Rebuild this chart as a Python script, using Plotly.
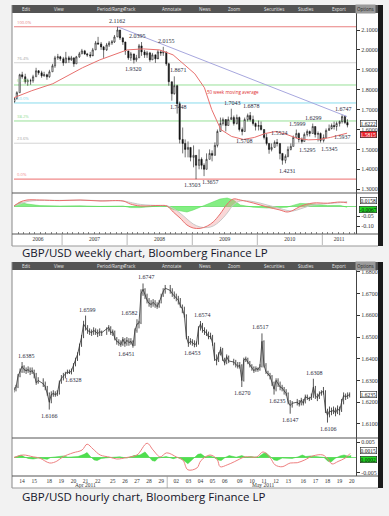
import plotly.graph_objects as go
import pandas as pd

W, H = 389, 516

# ============ WEEKLY CHART DATA (half-month bars) ============
weekly_months = pd.period_range("2006-04", "2011-05", freq="M")
weekly_bar_days = (8, 22)
weekly_first_open = 1.7400
weekly_close = [
    1.7550, 1.7850, 1.8750, 1.8650, 1.8400, 1.8450, 1.8450, 1.8650, 1.8950, 1.8850, 1.8700, 1.8750, 1.8650, 1.8900, 1.9200, 1.9600, 1.9650, 1.9550,
    1.9350, 1.9600, 1.9500, 1.9600, 1.9300, 1.9650, 1.9800, 1.9950, 1.9800, 1.9750, 1.9700, 2.0000, 2.0350, 2.0300, 2.0150, 2.0000, 2.0250, 2.0350, 2.0400, 2.0650, 2.1000, 2.0600, 2.0400, 1.9950,
    1.9600, 1.9800, 1.9500, 1.9600, 2.0200, 1.9900, 1.9750, 1.9850, 1.9500, 1.9750, 1.9550, 1.9900, 1.9850, 1.9900, 1.9300, 1.8400, 1.7800, 1.8200, 1.7300, 1.5500, 1.5300, 1.5000, 1.5100, 1.4600,
    1.4700, 1.4200, 1.4500, 1.4200, 1.4000, 1.4500, 1.4800, 1.4700, 1.5200, 1.5900, 1.6300, 1.6500, 1.6200, 1.6500, 1.6600, 1.6300, 1.6600, 1.6000, 1.5900, 1.6500, 1.6700, 1.6500, 1.6300, 1.6150,
    1.6200, 1.6000, 1.5600, 1.5300, 1.5000, 1.5100, 1.5350, 1.5300, 1.4800, 1.4450, 1.4650, 1.5000, 1.5150, 1.5600, 1.5800, 1.5500, 1.5400, 1.5750, 1.5900, 1.5800, 1.6150, 1.5750, 1.5800, 1.5450,
    1.5600, 1.5950, 1.6050, 1.6200, 1.6150, 1.6300, 1.6400, 1.6650, 1.6350, 1.6222,
]
weekly_high = [
    1.7600, 1.7920, 1.8800, 1.8900, 1.8800, 1.8550, 1.8550, 1.8750, 1.9100, 1.8980, 1.8950, 1.8900, 1.8800, 1.9000, 1.9300, 1.9700, 1.9800, 1.9700,
    1.9650, 1.9900, 1.9700, 1.9700, 1.9600, 1.9700, 1.9900, 2.0050, 2.0000, 1.9850, 1.9900, 2.0100, 2.0450, 2.0655, 2.0400, 2.0200, 2.0350, 2.0450, 2.0500, 2.0750, 2.1162, 2.1000, 2.0650, 2.0400,
    1.9950, 1.9900, 1.9800, 1.9750, 2.0300, 2.0395, 2.0000, 1.9950, 1.9900, 1.9850, 1.9750, 2.0000, 2.0000, 2.0155, 1.9900, 1.9350, 1.8400, 1.8671, 1.8250, 1.7400, 1.6100, 1.5500, 1.5400, 1.5100,
    1.5200, 1.4700, 1.5000, 1.4600, 1.4300, 1.4800, 1.5000, 1.4950, 1.5350, 1.6000, 1.6600, 1.6600, 1.6500, 1.6650, 1.7043, 1.6700, 1.6750, 1.6650, 1.6100, 1.6600, 1.6800, 1.6878, 1.6700, 1.6350,
    1.6450, 1.6400, 1.6000, 1.5800, 1.5300, 1.5300, 1.5450, 1.5524, 1.5300, 1.4800, 1.4750, 1.5150, 1.5300, 1.5700, 1.5999, 1.5850, 1.5600, 1.5850, 1.6000, 1.5950, 1.6299, 1.6150, 1.5900, 1.5850,
    1.5750, 1.6050, 1.6250, 1.6300, 1.6400, 1.6400, 1.6450, 1.6747, 1.6700, 1.6517,
]
weekly_low = [
    1.7350, 1.7500, 1.7850, 1.8550, 1.8300, 1.8200, 1.8250, 1.8350, 1.8650, 1.8750, 1.8600, 1.8650, 1.8500, 1.8600, 1.8900, 1.9100, 1.9500, 1.9450,
    1.9200, 1.9350, 1.9350, 1.9450, 1.9150, 1.9300, 1.9600, 1.9800, 1.9750, 1.9650, 1.9600, 1.9750, 2.0000, 2.0250, 2.0000, 1.9600, 1.9950, 2.0150, 2.0250, 2.0350, 2.0650, 2.0500, 2.0250, 1.9750,
    1.9500, 1.9450, 1.9320, 1.9400, 1.9600, 1.9700, 1.9600, 1.9600, 1.9400, 1.9500, 1.9350, 1.9600, 1.9700, 1.9700, 1.9200, 1.8200, 1.7448, 1.7750, 1.6800, 1.5300, 1.4800, 1.4600, 1.4600, 1.4400,
    1.4100, 1.3503, 1.4000, 1.4000, 1.3657, 1.4000, 1.4500, 1.4400, 1.4700, 1.5100, 1.5900, 1.6200, 1.5900, 1.6200, 1.6500, 1.6200, 1.6250, 1.5900, 1.5708, 1.5900, 1.6400, 1.6400, 1.6200, 1.5950,
    1.5950, 1.5950, 1.5500, 1.5200, 1.4781, 1.4900, 1.5100, 1.5150, 1.4500, 1.4231, 1.4300, 1.4600, 1.4950, 1.5150, 1.5550, 1.5350, 1.5295, 1.5400, 1.5650, 1.5650, 1.5800, 1.5600, 1.5400, 1.5345,
    1.5350, 1.5550, 1.5950, 1.6000, 1.6000, 1.5937, 1.6150, 1.6300, 1.6270, 1.6106,
]

ma50_dates = ["2006-04-06", "2006-07-15", "2006-11-10", "2007-02-01", "2007-04-25", "2007-08-01", "2007-11-05",
              "2008-01-01", "2008-04-01", "2008-07-01", "2008-09-15", "2008-12-01", "2009-01-15", "2009-03-10",
              "2009-04-20", "2009-06-10", "2009-08-10", "2009-10-15", "2009-12-15", "2010-02-15", "2010-04-15",
              "2010-06-15", "2010-08-15", "2010-10-15", "2010-12-15", "2011-02-15", "2011-04-15", "2011-05-20"]
ma50_vals = [1.760, 1.795, 1.830, 1.870, 1.910, 1.950, 1.980, 2.000, 2.005, 2.000, 1.975, 1.915, 1.880, 1.810,
             1.700, 1.600, 1.565, 1.550, 1.560, 1.580, 1.590, 1.575, 1.555, 1.548, 1.550, 1.560, 1.575, 1.5815]

trend_dates = ["2007-11-09", "2011-05-20"]
trend_vals = [2.1162, 1.665]

fib_high, fib_low = 2.1162, 1.3503
fib_pcts = [0.0, 23.6, 38.2, 50.0, 61.8, 76.4, 100.0]
fib_colors = ["#f08a8a", "#d4d4d4", "#98e098", "#88dcec", "#98e098", "#d4d4d4", "#e88080"]

weekly_macd_dates = ["2006-04-06", "2006-05-10", "2006-06-18", "2006-08-29", "2006-12-19", "2007-04-12", "2007-08-02",
                     "2007-12-09", "2008-01-19", "2008-03-15", "2008-07-05", "2008-08-12", "2008-09-16", "2008-10-24",
                     "2008-12-02", "2009-01-06", "2009-02-14", "2009-03-26", "2009-04-28", "2009-06-06", "2009-07-16",
                     "2009-08-19", "2009-09-27", "2009-12-09", "2010-02-25", "2010-05-08", "2010-06-17", "2010-07-20",
                     "2010-08-29", "2010-11-10", "2011-01-29", "2011-04-12", "2011-05-20"]
weekly_macd = [0.000, 0.020, 0.030, 0.030, 0.027, 0.030, 0.025, 0.025, 0.010, 0.000, 0.003, 0.000, -0.030, -0.060,
               -0.095, -0.110, -0.112, -0.100, -0.080, -0.040, 0.010, 0.035, 0.030, 0.015, -0.005, -0.020, -0.030,
               -0.022, -0.002, 0.015, 0.014, 0.020, 0.0158]
weekly_signal = [0.002, 0.010, 0.022, 0.028, 0.028, 0.029, 0.027, 0.025, 0.018, 0.008, 0.002, 0.001, -0.012, -0.035,
                 -0.065, -0.090, -0.105, -0.108, -0.100, -0.075, -0.035, 0.005, 0.025, 0.022, 0.005, -0.012, -0.022,
                 -0.025, -0.015, 0.005, 0.012, 0.017, 0.0225]
weekly_hist = [0.000, 0.018, 0.010, 0.002, 0.000, 0.001, -0.002, 0.000, -0.008, -0.008, 0.001, -0.002, -0.018, -0.025,
               -0.030, -0.020, -0.006, 0.008, 0.020, 0.035, 0.040, 0.030, 0.005, -0.006, -0.010, -0.008, -0.006,
               0.003, 0.013, 0.010, 0.002, 0.003, -0.0067]

weekly_labels = [("2.1162", "2007-11-05", 2.1162, 1), ("2.0395", "2008-02-26", 2.0395, 1), ("2.0155", "2008-08-07", 2.0155, 1),
                 ("1.9320", "2008-02-05", 1.9320, -1), ("1.8671", "2008-10-14", 1.8671, 1), ("1.7448", "2008-10-14", 1.7448, -1),
                 ("1.3503", "2009-01-01", 1.3503, -1), ("1.3657", "2009-04-12", 1.3657, -1), ("1.7043", "2009-08-12", 1.7043, 1),
                 ("1.5708", "2009-10-20", 1.5708, -1), ("1.6878", "2009-11-28", 1.6878, 1), ("1.5524", "2010-05-05", 1.5524, 1),
                 ("1.4231", "2010-06-20", 1.4231, -1), ("1.5999", "2010-08-12", 1.5999, 1), ("1.5295", "2010-10-08", 1.5295, -1),
                 ("1.6299", "2010-11-10", 1.6299, 1), ("1.5345", "2011-02-13", 1.5345, -1), ("1.5937", "2011-04-22", 1.5937, -1),
                 ("1.6747", "2011-05-01", 1.6747, 1)]
weekly_years = ["2006", "2007", "2008", "2009", "2010", "2011"]
weekly_price_ticks = [1.3, 1.4, 1.5, 1.6, 1.7, 1.8, 1.9, 2.0, 2.1]
weekly_range = ["2006-04-06", "2011-07-09"]

# ============ HOURLY CHART DATA (4-hour bars) ============
hourly_first_bar = "2011-04-13 20:00"
hourly_days = ["2011-04-14", "2011-04-15", "2011-04-18", "2011-04-19", "2011-04-20", "2011-04-21", "2011-04-22",
               "2011-04-25", "2011-04-26", "2011-04-27", "2011-04-28", "2011-04-29", "2011-05-02", "2011-05-03",
               "2011-05-04", "2011-05-05", "2011-05-06", "2011-05-09", "2011-05-10", "2011-05-11", "2011-05-12",
               "2011-05-13", "2011-05-16", "2011-05-17", "2011-05-18", "2011-05-19", "2011-05-20"]
hourly_first_open = 1.6250
hourly_close = [
    1.6257,
    1.6270, 1.6320, 1.6340, 1.6365, 1.6350, 1.6345,
    1.6350, 1.6340, 1.6345, 1.6330, 1.6290, 1.6300,
    1.6285, 1.6270, 1.6240, 1.6200, 1.6235, 1.6240,
    1.6235, 1.6240, 1.6290, 1.6310, 1.6320, 1.6330,
    1.6340, 1.6335, 1.6345, 1.6370, 1.6395, 1.6420,
    1.6460, 1.6500, 1.6560, 1.6545, 1.6530, 1.6525,
    1.6520, 1.6530, 1.6525, 1.6515, 1.6525, 1.6520,
    1.6535, 1.6545, 1.6520, 1.6525, 1.6495, 1.6480,
    1.6475, 1.6465, 1.6490, 1.6470, 1.6485, 1.6475,
    1.6480, 1.6460, 1.6530, 1.6560, 1.6565, 1.6700,
    1.6720, 1.6690, 1.6670, 1.6655, 1.6650, 1.6660,
    1.6650, 1.6640, 1.6660, 1.6690, 1.6710, 1.6725,
    1.6715, 1.6700, 1.6690, 1.6680, 1.6670, 1.6645,
    1.6630, 1.6600, 1.6500, 1.6470, 1.6480, 1.6475,
    1.6465, 1.6470, 1.6540, 1.6560, 1.6535, 1.6525,
    1.6520, 1.6500, 1.6505, 1.6470, 1.6400, 1.6390,
    1.6420, 1.6445, 1.6400, 1.6380, 1.6410, 1.6390,
    1.6385, 1.6375, 1.6365, 1.6370, 1.6300, 1.6395,
    1.6400, 1.6385, 1.6370, 1.6360, 1.6345, 1.6355,
    1.6350, 1.6365, 1.6480, 1.6370, 1.6340, 1.6330,
    1.6320, 1.6290, 1.6260, 1.6300, 1.6285, 1.6270,
    1.6265, 1.6250, 1.6240, 1.6200, 1.6185, 1.6195,
    1.6200, 1.6190, 1.6210, 1.6195, 1.6225, 1.6220,
    1.6215, 1.6225, 1.6270, 1.6230, 1.6220, 1.6240,
    1.6245, 1.6250, 1.6165, 1.6140, 1.6160, 1.6155,
    1.6165, 1.6150, 1.6170, 1.6160, 1.6200, 1.6230,
    1.6225, 1.6230, 1.6235,
]
hourly_high = [
    1.6270,
    1.6280, 1.6330, 1.6355, 1.6385, 1.6370, 1.6360,
    1.6365, 1.6360, 1.6360, 1.6350, 1.6335, 1.6315,
    1.6310, 1.6295, 1.6275, 1.6245, 1.6250, 1.6255,
    1.6250, 1.6255, 1.6300, 1.6325, 1.6335, 1.6340,
    1.6350, 1.6350, 1.6355, 1.6380, 1.6405, 1.6430,
    1.6470, 1.6510, 1.6575, 1.6599, 1.6555, 1.6540,
    1.6535, 1.6545, 1.6540, 1.6535, 1.6540, 1.6530,
    1.6545, 1.6555, 1.6550, 1.6535, 1.6530, 1.6500,
    1.6490, 1.6485, 1.6500, 1.6495, 1.6500, 1.6495,
    1.6495, 1.6485, 1.6540, 1.6582, 1.6575, 1.6720,
    1.6747, 1.6725, 1.6700, 1.6680, 1.6670, 1.6675,
    1.6670, 1.6660, 1.6670, 1.6700, 1.6725, 1.6740,
    1.6740, 1.6725, 1.6710, 1.6700, 1.6690, 1.6680,
    1.6650, 1.6640, 1.6605, 1.6505, 1.6495, 1.6490,
    1.6485, 1.6480, 1.6550, 1.6574, 1.6565, 1.6545,
    1.6535, 1.6525, 1.6520, 1.6510, 1.6475, 1.6420,
    1.6430, 1.6455, 1.6450, 1.6405, 1.6420, 1.6415,
    1.6400, 1.6395, 1.6385, 1.6385, 1.6375, 1.6405,
    1.6410, 1.6405, 1.6390, 1.6375, 1.6365, 1.6365,
    1.6360, 1.6375, 1.6517, 1.6485, 1.6380, 1.6345,
    1.6335, 1.6325, 1.6295, 1.6310, 1.6310, 1.6295,
    1.6280, 1.6270, 1.6260, 1.6245, 1.6210, 1.6205,
    1.6215, 1.6210, 1.6220, 1.6215, 1.6235, 1.6235,
    1.6225, 1.6240, 1.6308, 1.6275, 1.6240, 1.6250,
    1.6255, 1.6270, 1.6255, 1.6170, 1.6180, 1.6175,
    1.6180, 1.6175, 1.6185, 1.6180, 1.6215, 1.6245,
    1.6240, 1.6245, 1.6245,
]
hourly_low = [
    1.6245,
    1.6250, 1.6265, 1.6315, 1.6335, 1.6335, 1.6330,
    1.6335, 1.6325, 1.6330, 1.6310, 1.6280, 1.6285,
    1.6270, 1.6255, 1.6230, 1.6166, 1.6195, 1.6225,
    1.6225, 1.6228, 1.6235, 1.6285, 1.6300, 1.6310,
    1.6330, 1.6330, 1.6328, 1.6340, 1.6365, 1.6390,
    1.6415, 1.6455, 1.6495, 1.6530, 1.6515, 1.6510,
    1.6505, 1.6510, 1.6510, 1.6500, 1.6505, 1.6505,
    1.6510, 1.6525, 1.6510, 1.6505, 1.6485, 1.6465,
    1.6460, 1.6455, 1.6460, 1.6455, 1.6460, 1.6460,
    1.6465, 1.6451, 1.6460, 1.6520, 1.6540, 1.6560,
    1.6690, 1.6675, 1.6655, 1.6640, 1.6635, 1.6640,
    1.6635, 1.6630, 1.6635, 1.6655, 1.6685, 1.6700,
    1.6700, 1.6685, 1.6675, 1.6665, 1.6650, 1.6635,
    1.6610, 1.6590, 1.6490, 1.6455, 1.6465, 1.6460,
    1.6453, 1.6455, 1.6465, 1.6530, 1.6520, 1.6510,
    1.6505, 1.6490, 1.6490, 1.6460, 1.6390, 1.6370,
    1.6385, 1.6415, 1.6390, 1.6370, 1.6375, 1.6380,
    1.6370, 1.6360, 1.6355, 1.6355, 1.6270, 1.6295,
    1.6385, 1.6375, 1.6360, 1.6345, 1.6335, 1.6340,
    1.6340, 1.6345, 1.6360, 1.6360, 1.6330, 1.6320,
    1.6305, 1.6275, 1.6235, 1.6250, 1.6270, 1.6255,
    1.6250, 1.6235, 1.6230, 1.6190, 1.6147, 1.6175,
    1.6185, 1.6180, 1.6185, 1.6185, 1.6195, 1.6210,
    1.6205, 1.6210, 1.6220, 1.6215, 1.6205, 1.6215,
    1.6230, 1.6235, 1.6150, 1.6106, 1.6130, 1.6140,
    1.6145, 1.6135, 1.6145, 1.6140, 1.6155, 1.6190,
    1.6210, 1.6215, 1.6222,
]

hourly_macd_times = ["04-13 20:00", "04-14 14:00", "04-15 10:00", "04-15 23:00", "04-18 13:00", "04-19 03:00",
                     "04-19 15:00", "04-20 11:00", "04-21 05:00", "04-21 15:00", "04-22 03:00", "04-22 17:00",
                     "04-25 06:00", "04-25 20:00", "04-26 16:00", "04-27 12:00", "04-28 08:00", "04-28 20:00",
                     "04-29 10:00", "04-29 23:00", "05-02 13:00", "05-03 01:00", "05-03 11:00", "05-04 05:00",
                     "05-04 13:00", "05-05 07:00", "05-05 21:00", "05-06 03:00", "05-06 17:00", "05-09 01:00",
                     "05-09 12:00", "05-09 22:00", "05-10 22:00", "05-11 10:00", "05-12 00:00", "05-12 10:00",
                     "05-13 00:00", "05-13 16:00", "05-16 00:00", "05-16 15:00", "05-17 07:00", "05-18 03:00",
                     "05-18 13:00", "05-18 21:00", "05-19 09:00", "05-19 23:00", "05-20 09:00"]
hourly_macd = [0.0000, 0.0008, 0.0002, -0.0002, -0.0018, -0.0012, 0.0002, 0.0015, 0.0024, 0.0043, 0.0027, 0.0008,
               0.0001, -0.0005, 0.0000, 0.0008, 0.0046, 0.0024, 0.0002, 0.0015, 0.0001, -0.0008, -0.0040, -0.0034,
               -0.0010, 0.0008, -0.0006, -0.0030, -0.0024, -0.0014, -0.0005, 0.0002, 0.0002, 0.0018, 0.0000,
               -0.0024, -0.0030, -0.0018, -0.0017, -0.0008, 0.0005, 0.0008, -0.0006, -0.0021, -0.0013, -0.0002,
               0.0013]
hourly_hist_times = ["04-13 20:00", "04-14 04:00", "04-14 10:00", "04-14 16:00", "04-15 00:00", "04-15 10:00",
                     "04-15 20:00", "04-18 00:00", "04-18 08:00", "04-18 15:00", "04-19 09:00", "04-19 17:00",
                     "04-20 01:00", "04-20 21:00", "04-21 09:00", "04-21 15:00", "04-21 21:00", "04-22 05:00",
                     "04-22 11:00", "04-22 19:00", "04-25 07:00", "04-26 02:00", "04-26 16:00", "04-27 06:00",
                     "04-27 18:00", "04-28 04:00", "04-28 10:00", "04-28 18:00", "04-29 00:00", "04-29 06:00",
                     "04-29 22:00", "05-02 06:00", "05-02 15:00", "05-03 03:00", "05-03 11:00", "05-03 19:00",
                     "05-04 07:00", "05-04 13:00", "05-04 21:00", "05-05 07:00", "05-05 15:00", "05-05 23:00",
                     "05-06 05:00", "05-06 13:00", "05-06 21:00", "05-09 05:00", "05-09 16:00", "05-10 00:00",
                     "05-10 10:00", "05-11 00:00", "05-11 10:00", "05-11 16:00", "05-12 00:00", "05-12 08:00",
                     "05-12 14:00", "05-13 00:00", "05-13 20:00", "05-16 02:00", "05-16 10:00", "05-16 17:00",
                     "05-17 03:00", "05-17 17:00", "05-18 05:00", "05-18 13:00", "05-18 19:00", "05-19 03:00",
                     "05-19 13:00", "05-19 21:00", "05-20 05:00", "05-20 11:00"]
hourly_hist = [0, 0.0004, 0.0008, 0.0002, -0.0003, -0.0005, -0.0002, -0.0004, -0.0006, 0, 0.0003, 0.0005,
               0.0001, 0.0003, 0.0010, 0.0016, 0.0004, -0.0008, -0.0010, -0.0003, 0, 0.0002, -0.0002, 0.0006,
               0.0008, 0.0018, 0.0006, -0.0010, -0.0012, -0.0002, 0.0003, -0.0004, 0, -0.0010, -0.0020, -0.0008,
               0.0010, 0.0012, 0.0002, 0.0005, 0, -0.0008, -0.0010, 0, 0.0006, 0.0001, 0.0006, 0.0001,
               0.0003, 0, 0.0012, 0.0015, 0.0002, -0.0008, -0.0010, -0.0002, -0.0003, 0.0002, 0.0008, 0.0003,
               0.0005, 0.0001, 0, -0.0012, -0.0015, -0.0003, 0.0005, 0.0008, 0.0004, 0.0006]

hourly_labels = [("1.6385", "04-14 20:00", 1.6385, 1), ("1.6166", "04-18 11:30", 1.6166, -1),
                 ("1.6328", "04-20 13:00", 1.6328, -1), ("1.6599", "04-21 15:00", 1.6599, 1),
                 ("1.6451", "04-26 16:00", 1.6451, -1), ("1.6582", "04-26 22:00", 1.6582, 1),
                 ("1.6747", "04-28 06:00", 1.6747, 1), ("1.6453", "05-03 21:00", 1.6453, -1),
                 ("1.6574", "05-04 17:00", 1.6574, 1), ("1.6270", "05-09 16:30", 1.6270, -1),
                 ("1.6517", "05-11 06:00", 1.6517, 1), ("1.6235", "05-12 14:00", 1.6235, -1),
                 ("1.6308", "05-17 11:00", 1.6308, 1), ("1.6147", "05-13 17:30", 1.6147, -1),
                 ("1.6106", "05-18 15:00", 1.6106, -1)]
hourly_weekend_starts = ["2011-04-16", "2011-04-23", "2011-04-30", "2011-05-07", "2011-05-14"]
hourly_price_ticks = [1.61, 1.62, 1.63, 1.64, 1.65, 1.66, 1.67, 1.68]
hourly_range = ["2011-04-13 20:00", "2011-05-20 20:36"]
hourly_months = [("Apr 2011", "2011-04-21 12:00"), ("May 2011", "2011-05-11 12:00")]
hourly_macd_box = 0.0015
hourly_hist_box = 0.0002

# ============ BUILD ============
def yp(p):
    return 1 - p / H

def xp(p):
    return p / W

XD = [xp(14), xp(356)]
SERIF = "Liberation Serif"
SANS = "Open Sans"

weekly_x = [pd.Timestamp(p.year, p.month, d) for p in weekly_months for d in weekly_bar_days]
weekly_open = [weekly_first_open] + weekly_close[:-1]

hourly_x = [pd.Timestamp(hourly_first_bar)]
for d in hourly_days:
    for hh in range(0, 24, 4):
        hourly_x.append(pd.Timestamp(d) + pd.Timedelta(hours=hh))
hourly_x = hourly_x[:len(hourly_close)]
hourly_open = [hourly_first_open] + hourly_close[:-1]

def ht(s):
    return pd.Timestamp("2011-" + s)

fig = go.Figure()

# weekly price
fig.add_trace(go.Candlestick(
    x=weekly_x, open=weekly_open, high=weekly_high, low=weekly_low, close=weekly_close,
    increasing=dict(line=dict(color="#111", width=0.6), fillcolor="white"),
    decreasing=dict(line=dict(color="#111", width=0.6), fillcolor="#111"),
    whiskerwidth=0, xaxis="x", yaxis="y", showlegend=False, hoverinfo="skip"))
fig.add_trace(go.Scatter(x=ma50_dates, y=ma50_vals, mode="lines", line=dict(color="#e8706e", width=1),
                         xaxis="x", yaxis="y", showlegend=False, hoverinfo="skip"))
fig.add_trace(go.Scatter(x=trend_dates, y=trend_vals, mode="lines", line=dict(color="#a7a7de", width=1),
                         xaxis="x", yaxis="y", showlegend=False, hoverinfo="skip"))

# weekly MACD
fig.add_trace(go.Scatter(x=weekly_macd_dates, y=weekly_hist, mode="lines", fill="tozeroy",
                         line=dict(color="#4fd84f", width=0.5), fillcolor="rgba(110,235,110,0.85)",
                         xaxis="x2", yaxis="y2", showlegend=False, hoverinfo="skip"))
fig.add_trace(go.Scatter(x=weekly_macd_dates, y=weekly_signal, mode="lines", line=dict(color="#c9c9c9", width=1),
                         line_shape="spline", xaxis="x2", yaxis="y2", showlegend=False, hoverinfo="skip"))
fig.add_trace(go.Scatter(x=weekly_macd_dates, y=weekly_macd, mode="lines", line=dict(color="#e8706e", width=1),
                         line_shape="spline", fill="tonexty", fillcolor="rgba(240,140,140,0.35)",
                         xaxis="x2", yaxis="y2", showlegend=False, hoverinfo="skip"))

# hourly price: bars plus a thin close line so the series reads as one dense trace
fig.add_trace(go.Ohlc(x=hourly_x, open=hourly_open, high=hourly_high, low=hourly_low, close=hourly_close,
                      increasing=dict(line=dict(color="#2a2a2a", width=0.8)),
                      decreasing=dict(line=dict(color="#2a2a2a", width=0.8)),
                      tickwidth=0.12, xaxis="x3", yaxis="y3", showlegend=False, hoverinfo="skip"))
fig.add_trace(go.Scatter(x=hourly_x, y=hourly_close, mode="lines", line=dict(color="#333", width=0.8),
                         xaxis="x3", yaxis="y3", showlegend=False, hoverinfo="skip"))

# hourly MACD
fig.add_trace(go.Scatter(x=[ht(t) for t in hourly_hist_times], y=hourly_hist, mode="lines", fill="tozeroy",
                         line=dict(color="#3fd03f", width=0.5), fillcolor="rgba(60,220,60,0.9)",
                         xaxis="x4", yaxis="y4", showlegend=False, hoverinfo="skip"))
fig.add_trace(go.Scatter(x=[ht(t) for t in hourly_macd_times], y=hourly_macd, mode="lines",
                         line=dict(color="#ee8080", width=1), line_shape="spline",
                         xaxis="x4", yaxis="y4", showlegend=False, hoverinfo="skip"))

shapes = []
anns = []

def rect(x0, y0, x1, y1, fill, layer="below"):
    shapes.append(dict(type="rect", xref="paper", yref="paper", x0=xp(x0), x1=xp(x1), y0=yp(y1), y1=yp(y0),
                       fillcolor=fill, line=dict(width=0), layer=layer))

def hline(x0, x1, y, color, width=1):
    shapes.append(dict(type="line", xref="paper", yref="paper", x0=xp(x0), x1=xp(x1), y0=yp(y), y1=yp(y),
                       line=dict(color=color, width=width), layer="above"))

for (top, bot) in [(5, 246), (262, 488)]:
    rect(12, top, 378, bot, "white")
    rect(12, top, 378, top + 8, "#545454", layer="above")
    rect(378, top, 383, bot, "#1b1b1b", layer="above")
    shapes.append(dict(type="line", xref="paper", yref="paper", x0=xp(12), x1=xp(12), y0=yp(bot), y1=yp(top),
                       line=dict(color="#888", width=1), layer="above"))
    hline(12, 378, bot, "#999", 1)

for y in (193, 234, 438, 476):
    hline(12, 378, y, "#555", 1)

# toolbar texts
toolbar_items = [("Edit", 20), ("View", 52), ("Period/Range", 95), ("Track", 122), ("Annotate", 160),
                 ("News", 197), ("Zoom", 226), ("Securities", 262), ("Studies", 296), ("Export", 330)]
for top in (5, 262):
    for txt, xx in toolbar_items:
        anns.append(dict(xref="paper", yref="paper", x=xp(xx), y=yp(top + 4), text=txt, showarrow=False,
                         xanchor="left", yanchor="middle", font=dict(family=SANS, size=4.5, color="#e6e6e6")))
    anns.append(dict(xref="paper", yref="paper", x=xp(376), y=yp(top + 4), text="Options", showarrow=False,
                     xanchor="right", yanchor="middle", bgcolor="#9a9a9a",
                     font=dict(family=SANS, size=4.5, color="#222")))

# Fibonacci lines and labels
for pct, col in zip(fib_pcts, fib_colors):
    lvl = fib_low + pct / 100.0 * (fib_high - fib_low)
    shapes.append(dict(type="line", xref="x domain", yref="y", x0=0, x1=1, y0=lvl, y1=lvl,
                       line=dict(color=col, width=1.2 if pct in (0.0, 100.0) else 1), layer="below"))
    anns.append(dict(xref="paper", yref="y", x=xp(14.5), y=lvl, text="%.1f%%" % pct, showarrow=False,
                     xanchor="left", yanchor="bottom", yshift=0,
                     font=dict(family=SANS, size=4.2, color=col if col != "#d4d4d4" else "#aaaaaa")))

anns.append(dict(xref="paper", yref="paper", x=xp(205), y=yp(92), text="50 week moving average", showarrow=False,
                 xanchor="left", yanchor="middle", font=dict(family=SANS, size=4.5, color="#e03030")))

for txt, d, p, s in weekly_labels:
    anns.append(dict(xref="x", yref="y", x=d, y=p, text=txt, showarrow=False,
                     yanchor="bottom" if s > 0 else "top", yshift=1 * s,
                     font=dict(family=SERIF, size=6, color="#2a2a40")))
for txt, t, p, s in hourly_labels:
    anns.append(dict(xref="x3", yref="y3", x=ht(t), y=p, text=txt, showarrow=False,
                     yanchor="bottom" if s > 0 else "top", yshift=1 * s,
                     font=dict(family=SERIF, size=6, color="#2a2a40")))

# value boxes on right axis (pairs nudged apart so they do not collide)
def box(yref, val, text, bg, fg, shift):
    anns.append(dict(xref="paper", yref=yref, x=xp(368), y=val, text=text, showarrow=False, xanchor="center",
                     yanchor="middle", yshift=shift, bgcolor=bg, bordercolor="#222", borderwidth=0.6, borderpad=0,
                     font=dict(family=SERIF, size=5.5, color=fg)))

box("y", weekly_close[-1], "%.4f" % weekly_close[-1], "white", "#111", 1.5)
box("y", ma50_vals[-1], "%.4f" % ma50_vals[-1], "#e8202a", "white", -1.5)
box("y2", weekly_macd[-1], "%.4f" % weekly_macd[-1], "white", "#111", 2.5)
box("y2", weekly_hist[-1], "%.4f" % weekly_hist[-1], "#22dd22", "#111", -2.5)
box("y3", hourly_close[-1], "%.4f" % hourly_close[-1], "white", "#111", 0)
box("y4", hourly_macd_box, "%.4f" % hourly_macd_box, "white", "#111", 2.5)
box("y4", hourly_hist_box, "%.4f" % hourly_hist_box, "#22dd22", "#111", -2.5)

# year separators weekly
for yr in weekly_years[1:]:
    shapes.append(dict(type="line", xref="x2", yref="paper", x0=yr + "-01-01", x1=yr + "-01-01",
                       y0=yp(245), y1=yp(234), line=dict(color="#999", width=0.7), layer="above"))
ws, we = pd.Timestamp(weekly_range[0]), pd.Timestamp(weekly_range[1])
year_mid = []
for yr in weekly_years:
    a = max(pd.Timestamp(yr + "-01-01"), ws)
    b = min(pd.Timestamp(yr + "-12-31"), we)
    year_mid.append(a + (b - a) / 2)

# month separator hourly
shapes.append(dict(type="line", xref="x4", yref="paper", x0="2011-04-29 23:59", x1="2011-04-29 23:59",
                   y0=yp(488), y1=yp(476), line=dict(color="#999", width=0.7), layer="above"))
for txt, t in hourly_months:
    anns.append(dict(xref="x4", yref="paper", x=t, y=yp(484.5), text=txt, showarrow=False, xanchor="center",
                     yanchor="middle", font=dict(family=SERIF, size=5.5, color="#333")))

day_ticks = [pd.Timestamp(d) + pd.Timedelta(hours=12) for d in hourly_days]
day_text = [d[-2:] for d in hourly_days]

# captions
anns.append(dict(xref="paper", yref="paper", x=xp(20), y=yp(252), text="GBP/USD weekly chart, Bloomberg Finance LP",
                 showarrow=False, xanchor="left", yanchor="middle", font=dict(family=SANS, size=11.5, color="#15152a")))
anns.append(dict(xref="paper", yref="paper", x=xp(20), y=yp(496), text="GBP/USD hourly chart, Bloomberg Finance LP",
                 showarrow=False, xanchor="left", yanchor="middle", font=dict(family=SANS, size=11.5, color="#15152a")))

tickfont = dict(family=SERIF, size=6, color="#333")
rb = [dict(values=hourly_weekend_starts, dvalue=42 * 3600 * 1000)]

fig.update_layout(
    width=W, height=H, autosize=False, margin=dict(l=0, r=0, t=0, b=0),
    paper_bgcolor="#f2f2f2", plot_bgcolor="white", showlegend=False,
    shapes=shapes, annotations=anns,
    xaxis=dict(type="date", domain=XD, anchor="y", range=weekly_range, showticklabels=False, showgrid=False,
               zeroline=False, rangeslider=dict(visible=False), fixedrange=True),
    yaxis=dict(domain=[yp(193), yp(13)], anchor="x", side="right", range=[1.2809, 2.1854],
               tickvals=weekly_price_ticks, tickformat=".4f", tickfont=tickfont, ticks="outside", ticklen=3,
               tickcolor="#333", showline=True, linecolor="#444", linewidth=1, showgrid=False, zeroline=False),
    xaxis2=dict(type="date", domain=XD, anchor="y2", range=weekly_range, tickvals=year_mid, ticktext=weekly_years,
                tickfont=dict(family=SERIF, size=5.5, color="#333"), ticks="", showgrid=False, zeroline=False,
                minor=dict(ticks="inside", ticklen=2, tickcolor="#888", dtick="M1", tick0="2006-01-01",
                           tickmode="linear")),
    yaxis2=dict(domain=[yp(234), yp(193)], anchor="x2", side="right", range=[-0.14, 0.065],
                tickvals=[-0.05, -0.10], ticktext=["-0.05", "-0.10"], tickfont=tickfont, ticks="outside",
                ticklen=3, tickcolor="#333", showline=True, linecolor="#444", linewidth=1, showgrid=False,
                zeroline=True, zerolinecolor="#7ee07e", zerolinewidth=1),
    xaxis3=dict(type="date", domain=XD, anchor="y3", range=hourly_range, rangebreaks=rb, showticklabels=False,
                showgrid=False, zeroline=False, rangeslider=dict(visible=False)),
    yaxis3=dict(domain=[yp(438), yp(270)], anchor="x3", side="right", range=[1.6035, 1.6809],
                tickvals=hourly_price_ticks, tickformat=".4f", tickfont=tickfont, ticks="outside", ticklen=3,
                tickcolor="#333", showline=True, linecolor="#444", linewidth=1, showgrid=False, zeroline=False),
    xaxis4=dict(type="date", domain=XD, anchor="y4", range=hourly_range, rangebreaks=rb, tickvals=day_ticks,
                ticktext=day_text, tickfont=dict(family=SERIF, size=5.5, color="#333"), ticks="",
                showgrid=False, zeroline=False),
    yaxis4=dict(domain=[yp(476), yp(438)], anchor="x4", side="right", range=[-0.0060, 0.0063],
                tickvals=[0.005, -0.005], ticktext=["0.005", "-0.005"], tickfont=tickfont, ticks="outside",
                ticklen=3, tickcolor="#333", showline=True, linecolor="#444", linewidth=1, showgrid=False,
                zeroline=True, zerolinecolor="#7ee07e", zerolinewidth=1),
)

fig.write_html("out.html")
